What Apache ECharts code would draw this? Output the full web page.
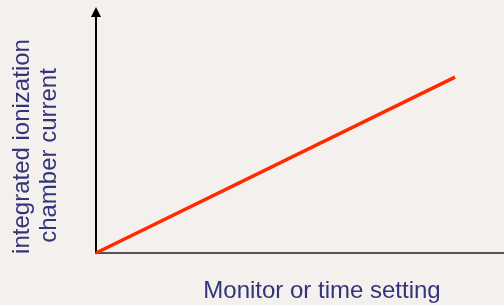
<!DOCTYPE html>
<html><head><meta charset="utf-8">
<script src="https://cdn.jsdelivr.net/npm/echarts@6/dist/echarts.min.js"></script>
<style>html,body{margin:0;padding:0;background:#f4f0ed;}#c{width:504px;height:305px;}</style>
</head><body><div id="c"></div>
<script>
const setting = [0, 88];
const current = [0, 73];
const xTitle = 'Monitor or time setting';
const yTitle = ['integrated ionization', 'chamber current'];

const font = '24px "Liberation Sans", Arial, sans-serif';
const chart = echarts.init(document.getElementById('c'));
chart.setOption({
  backgroundColor: '#f4f0ed',
  animation: false,
  grid: {left: 96, right: 0, top: 12, bottom: 52},
  xAxis: {type: 'value', min: 0, max: 100,
    axisLine: {show: true, lineStyle: {color: '#555', width: 2}},
    axisTick: {show: false}, axisLabel: {show: false}, splitLine: {show: false}},
  yAxis: {type: 'value', min: 0, max: 100,
    axisLine: {show: true, symbol: ['none', 'triangle'], symbolSize: [10, 10], lineStyle: {color: '#000', width: 2}},
    axisTick: {show: false}, axisLabel: {show: false}, splitLine: {show: false}},
  series: [{type: 'line', data: setting.map((v, i) => [v, current[i]]),
    symbol: 'none', lineStyle: {color: '#ff2a00', width: 3.5}, z: 1}],
  graphic: [
    {type: 'text', position: [322, 291], style: {text: xTitle, fill: '#34347a', font: font, textAlign: 'center', textVerticalAlign: 'middle'}},
    {type: 'text', position: [22, 146.5], rotation: Math.PI / 2, style: {text: yTitle[0], fill: '#34347a', font: font, textAlign: 'center', textVerticalAlign: 'middle'}},
    {type: 'text', position: [49, 155.5], rotation: Math.PI / 2, style: {text: yTitle[1], fill: '#34347a', font: font, textAlign: 'center', textVerticalAlign: 'middle'}}
  ]
});
</script></body></html>
